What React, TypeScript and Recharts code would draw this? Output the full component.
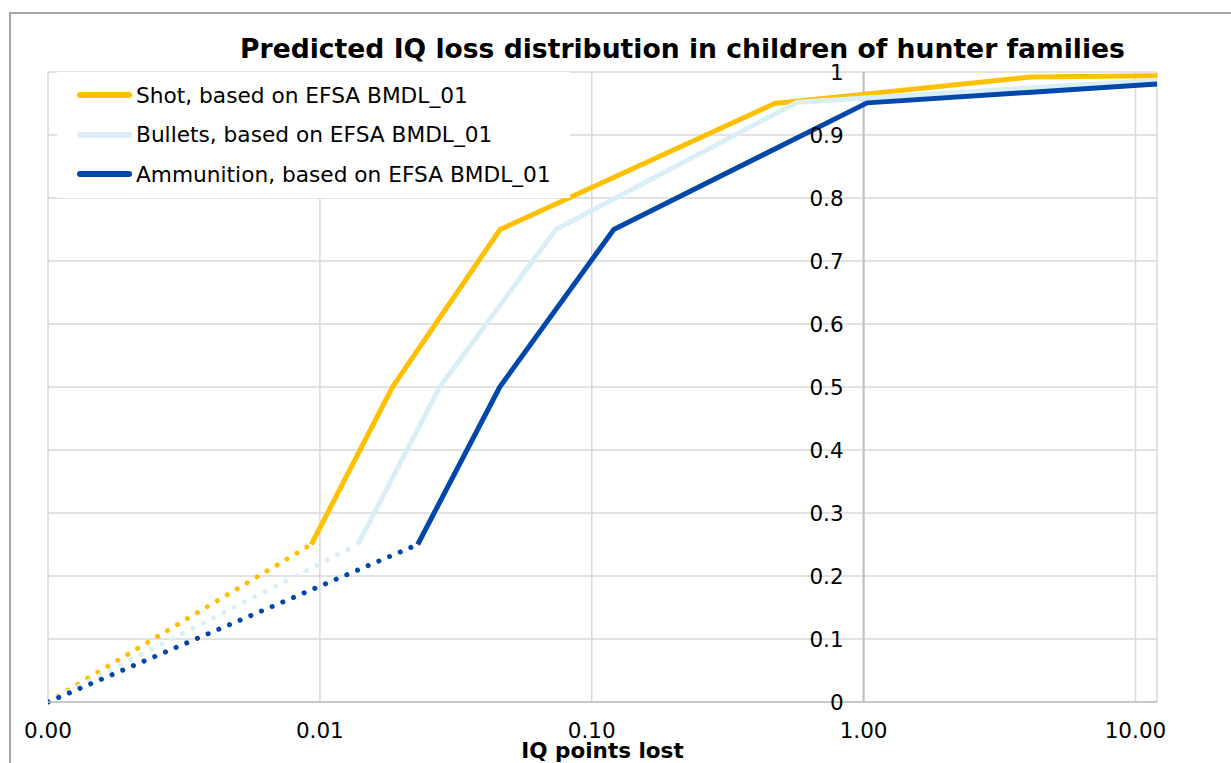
import {
  LineChart,
  Line,
  XAxis,
  YAxis,
  CartesianGrid,
  ReferenceLine,
} from "recharts";

// x values are IQ points lost (log scale), y is cumulative share
const xTicks = [0.001, 0.01, 0.1, 1, 10];
const xTickLabels = ["0.00", "0.01", "0.10", "1.00", "10.00"];
const yTicks = [0, 0.1, 0.2, 0.3, 0.4, 0.5, 0.6, 0.7, 0.8, 0.9, 1];

const shotX = [0.001, 0.0093, 0.0185, 0.046, 0.47, 4.1, 12];
const shotY = [0, 0.25, 0.5, 0.75, 0.95, 0.992, 0.994];
const bulletsX = [0.001, 0.0138, 0.0276, 0.0738, 0.57, 12];
const bulletsY = [0, 0.25, 0.5, 0.75, 0.952, 0.987];
const ammoX = [0.001, 0.0229, 0.0459, 0.1205, 1.03, 12];
const ammoY = [0, 0.25, 0.5, 0.75, 0.951, 0.981];

const seriesNames = [
  "Shot, based on EFSA BMDL_01",
  "Bullets, based on EFSA BMDL_01",
  "Ammunition, based on EFSA BMDL_01",
];
const seriesColors = ["#FFC000", "#DAEEF8", "#0047AB"];

const toPoints = (xs: number[], ys: number[]) =>
  xs.map((x, i) => ({ x, y: ys[i] }));

const series = [
  toPoints(shotX, shotY),
  toPoints(bulletsX, bulletsY),
  toPoints(ammoX, ammoY),
];

const W = 1223;
const H = 755;
const X_MIN = 0.001;
const X_MAX = 12;
const PLOT_LEFT = 40;
const PLOT_TOP = 64;
const PLOT_RIGHT = 1149;
const PLOT_BOTTOM = 694;
const PLOT_W = PLOT_RIGHT - PLOT_LEFT;
// the vertical axis crosses at x = 1
const Y_AXIS_X =
  PLOT_LEFT + (PLOT_W * Math.log10(1 / X_MIN)) / Math.log10(X_MAX / X_MIN);

const FONT = "'DejaVu Sans', Verdana, sans-serif";

const XTick = (props: any) => {
  const i = xTicks.indexOf(props.payload.value);
  return (
    <text
      x={props.x}
      y={props.y + 28.5}
      dy="0.36em"
      textAnchor="middle"
      fontSize={21.5}
      fontFamily={FONT}
      fill="#000"
    >
      {i >= 0 ? xTickLabels[i] : props.payload.value}
    </text>
  );
};

const YTick = (props: any) => (
  <text
    x={Y_AXIS_X - 20}
    y={props.y}
    dy="0.36em"
    textAnchor="end"
    fontSize={21.5}
    fontFamily={FONT}
    fill="#000"
  >
    {props.payload.value}
  </text>
);

const App = () => {
  return (
    <div
      style={{
        position: "fixed",
        left: 8,
        top: 8,
        width: W,
        height: H,
        overflow: "hidden",
        background: "#fff",
      }}
    >
      <div
        style={{
          position: "absolute",
          left: 1,
          top: 4,
          width: 1400,
          height: 1000,
          border: "2px solid #a6a6a6",
          boxSizing: "border-box",
        }}
      />
      <LineChart
        width={W}
        height={H}
        margin={{
          top: PLOT_TOP,
          left: PLOT_LEFT - 1,
          right: W - PLOT_RIGHT,
          bottom: H - PLOT_BOTTOM - 40,
        }}
        style={{ position: "absolute", left: 0, top: 0 }}
      >
        <CartesianGrid stroke="#d9d9d9" strokeWidth={1.5} />
        <XAxis
          dataKey="x"
          type="number"
          scale="log"
          domain={[X_MIN, X_MAX]}
          allowDataOverflow
          ticks={xTicks}
          height={40}
          tickSize={0}
          tickMargin={0}
          tickLine={false}
          stroke="#bfbfbf"
          strokeWidth={1.5}
          tick={<XTick />}
        />
        <YAxis
          type="number"
          domain={[0, 1]}
          ticks={yTicks}
          width={1}
          axisLine={false}
          tickLine={false}
          interval={0}
          tick={<YTick />}
        />
        <ReferenceLine x={1} stroke="#bfbfbf" strokeWidth={2} />
        {series.map((pts, i) => (
          <Line
            key={"dot" + i}
            data={pts.slice(0, 2)}
            dataKey="y"
            stroke={seriesColors[i]}
            strokeWidth={5}
            strokeDasharray="0.1 11.5"
            strokeLinecap="round"
            dot={false}
            activeDot={false}
            isAnimationActive={false}
          />
        ))}
        {series.map((pts, i) => (
          <Line
            key={"solid" + i}
            data={pts.slice(1)}
            dataKey="y"
            stroke={seriesColors[i]}
            strokeWidth={5}
            strokeLinejoin="round"
            dot={false}
            activeDot={false}
            isAnimationActive={false}
          />
        ))}
      </LineChart>
      <div
        style={{
          position: "absolute",
          left: 49,
          top: 64,
          width: 513,
          height: 126,
          background: "#fff",
          fontFamily: FONT,
          fontSize: 21.7,
        }}
      >
        {seriesNames.map((name, i) => (
          <div
            key={name}
            style={{
              position: "absolute",
              left: 20,
              top: 23 + i * 39.5 - 15,
              height: 30,
              display: "flex",
              alignItems: "center",
              whiteSpace: "nowrap",
            }}
          >
            <span
              style={{
                display: "inline-block",
                width: 55,
                height: 6,
                borderRadius: 3,
                background: seriesColors[i],
                marginRight: 4,
              }}
            />
            <span style={{ color: "#000" }}>{name}</span>
          </div>
        ))}
      </div>
      <div
        style={{
          position: "absolute",
          left: 674.5 - 600,
          top: 28,
          width: 1200,
          textAlign: "center",
          fontFamily: FONT,
          fontWeight: "bold",
          fontSize: 26.6,
          lineHeight: 1,
          whiteSpace: "nowrap",
        }}
      >
        Predicted IQ loss distribution in children of hunter families
      </div>
      <div
        style={{
          position: "absolute",
          left: (PLOT_LEFT + PLOT_RIGHT) / 2 - 200,
          top: 731.5,
          width: 400,
          textAlign: "center",
          fontFamily: FONT,
          fontWeight: "bold",
          fontSize: 21.5,
          lineHeight: 1,
        }}
      >
        IQ points lost
      </div>
    </div>
  );
};

export default App;
